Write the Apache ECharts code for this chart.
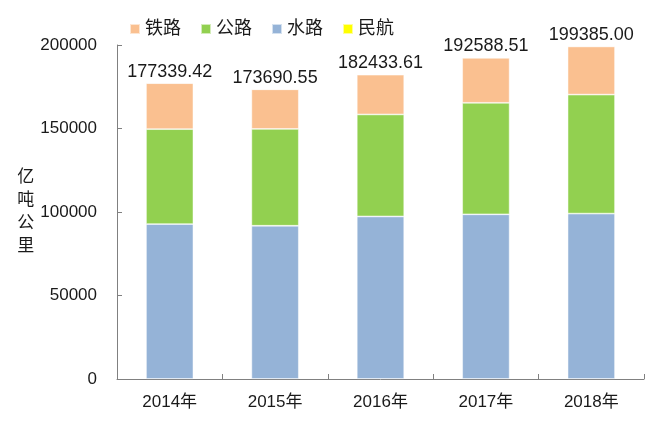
<!DOCTYPE html>
<html>
<head>
<meta charset="utf-8">
<script src="https://cdn.jsdelivr.net/npm/echarts@6/dist/echarts.min.js"></script>
<style>
  html, body { margin: 0; padding: 0; background: #fff; }
  #chart { width: 661px; height: 428px; }
</style>
</head>
<body>
<div id="chart"></div>
<script>
  // 年份
  var years = ['2014年', '2015年', '2016年', '2017年', '2018年'];

  // 货物周转量（亿吨公里）
  var shuilu = [92774.56, 91772.45, 97338.80, 98611.25, 99052.82];
  var gonglu = [56846.90, 57955.72, 61080.10, 66771.52, 71249.21];
  var tielu  = [27530.19, 23754.31, 23792.26, 26962.20, 28820.99];
  var minhang = [187.77, 208.07, 222.45, 243.55, 262.50];

  // 柱顶合计标签
  var totals = ['177339.42', '173690.55', '182433.61', '192588.51', '199385.00'];

  var font = 'Arial, "Liberation Sans", "Noto Sans CJK SC", sans-serif';
  var txt = '#1a1a1a';
  var axisCol = '#808080';
  var edge = 'rgba(255,255,255,0.6)';

  var chart = echarts.init(document.getElementById('chart'));

  chart.setOption({
    backgroundColor: '#fff',
    animation: false,
    textStyle: { fontFamily: font },
    legend: {
      data: ['铁路', '公路', '水路', '民航'],
      top: 15,
      left: 124,
      itemWidth: 10,
      itemHeight: 10,
      itemGap: 19,
      icon: 'rect',
      textStyle: { color: txt, fontSize: 18, fontFamily: font }
    },
    grid: { left: 117, right: 17, top: 45, bottom: 49 },
    xAxis: {
      type: 'category',
      data: years,
      axisLine: { lineStyle: { color: axisCol, width: 1 } },
      axisTick: { show: true, inside: true, length: 5, lineStyle: { color: axisCol } },
      axisLabel: { color: txt, fontSize: 17, margin: 15 }
    },
    yAxis: {
      type: 'value',
      min: 0,
      max: 200000,
      interval: 50000,
      name: '亿\n吨\n公\n里',
      nameLocation: 'middle',
      nameRotate: 0,
      nameGap: 82,
      nameTextStyle: { color: txt, fontSize: 17, lineHeight: 23 },
      axisLine: { show: true, lineStyle: { color: axisCol, width: 1 } },
      axisTick: { show: true, inside: true, length: 5, lineStyle: { color: axisCol } },
      axisLabel: {
        color: txt, fontSize: 17, margin: 20,
        formatter: function (v) { return String(v); }
      },
      splitLine: { show: false }
    },
    series: [
      {
        name: '水路', type: 'bar', stack: 'total', data: shuilu,
        barWidth: '45%',
        itemStyle: { color: '#95B3D7', borderColor: edge, borderWidth: 0.8 }
      },
      {
        name: '公路', type: 'bar', stack: 'total', data: gonglu,
        itemStyle: { color: '#92D050', borderColor: edge, borderWidth: 0.8 }
      },
      {
        name: '铁路', type: 'bar', stack: 'total', data: tielu,
        itemStyle: { color: '#FAC090', borderColor: edge, borderWidth: 0.8 }
      },
      {
        name: '民航', type: 'bar', stack: 'total', data: minhang,
        itemStyle: { color: '#FFFF00', borderColor: edge, borderWidth: 0.8 },
        label: {
          show: true,
          position: 'top',
          distance: 2,
          color: txt,
          fontSize: 18,
          formatter: function (p) { return totals[p.dataIndex]; }
        }
      }
    ]
  });
</script>
</body>
</html>
